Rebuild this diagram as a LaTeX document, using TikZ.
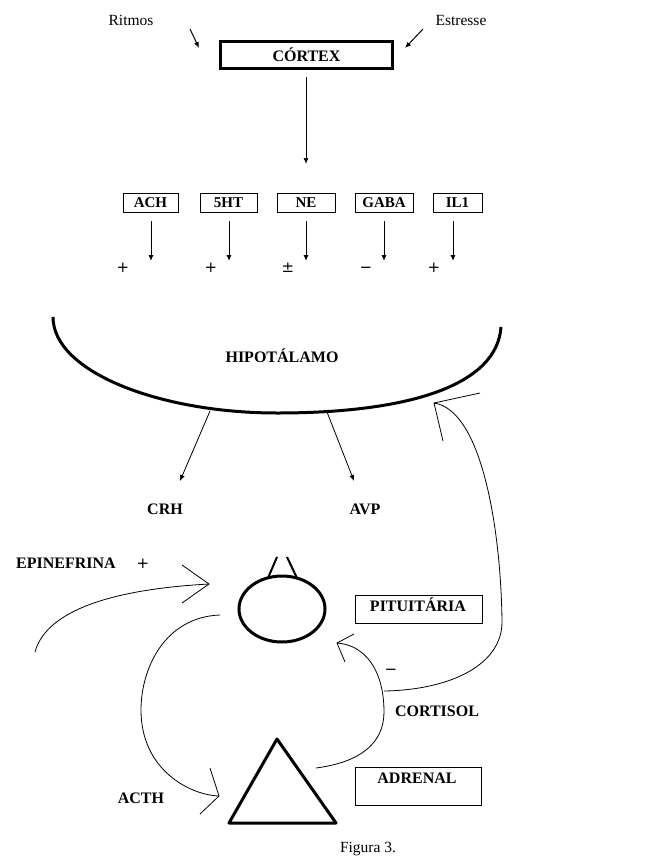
\documentclass[tikz,border=0pt]{standalone}
\usepackage{fontspec}
\setmainfont{Liberation Serif}
\newfontfamily\symf{DejaVu Sans}
\usetikzlibrary{arrows.meta,shapes.geometric}
\begin{document}
\begin{tikzpicture}[x=1pt,y=-1pt,
  lbl/.style={font=\fontsize{16}{18}\selectfont\bfseries, inner sep=0},
  txt/.style={font=\fontsize{15.5}{17}\selectfont, inner sep=0},
  sgn/.style={font=\symf\fontsize{15}{17}\selectfont, inner sep=0, text height=10pt, text depth=0pt},
  nbox/.style={draw, line width=1pt, minimum width=#1, minimum height=19, inner sep=0, font=\fontsize{15}{17}\selectfont\bfseries},
  arr/.style={line width=1pt, -{Latex[length=6pt,width=5pt]}},
  fine/.style={line width=0.8pt},
  heavy/.style={line width=3pt, line join=round}]
\useasboundingbox (0,0) rectangle (651,857);

% top
\node[txt] (ritmos) at (131,20) {Ritmos};
\node[txt] (estresse) at (461,20) {Estresse};
\node[draw, line width=3pt, minimum width=172, minimum height=27, inner sep=0, font=\fontsize{16}{18}\selectfont\bfseries] (cortex) at (306.5,54.5) {CÓRTEX};
\coordinate (r1) at (190,29);
\coordinate (r2) at (199,48);
\coordinate (e1) at (423,29);
\coordinate (e2) at (405,48);
\draw[arr] (r1) -- (r2);
\draw[arr] (e1) -- (e2);
\coordinate (c1) at (306,77);
\coordinate (c2) at (306,164);
\draw[arr] (c1) -- (c2);

% neurotransmitter boxes
\node[nbox=55] (ach) at (150.5,202.5) {ACH};
\node[nbox=57] (sht) at (228.5,202.5) {5HT};
\node[nbox=58] (ne) at (306,202.5) {NE};
\node[nbox=58] (gaba) at (384,202.5) {GABA};
\node[nbox=49] (il) at (457.5,202.5) {IL1};
\foreach \n/\x in {a/151,b/229,c/306,d/384,e/453}{
  \coordinate (\n s) at (\x,221);
  \coordinate (\n e) at (\x,261);
  \draw[arr] (\n s) -- (\n e);
}
\node[sgn] (p1) at (123,267) {+};
\node[sgn] (p2) at (211,267) {+};
\node[sgn] (p3) at (288,267) {±};
\node[sgn] (p4) at (366,267) {−};
\node[sgn] (p5) at (434,267) {+};

% hypothalamus
\draw[heavy] (53,317) .. controls (53,372) and (160,413) .. (277,413)
   .. controls (410,413) and (497,385) .. (501,327);
\node[lbl] (hipo) at (282,356) {HIPOTÁLAMO};
\coordinate (h1) at (210,411);
\coordinate (h1e) at (180,481);
\coordinate (h2) at (327,412);
\coordinate (h2e) at (354,481);
\draw[arr, line width=0.8pt] (h1) -- (h1e);
\draw[arr, line width=0.8pt] (h2) -- (h2e);
\node[lbl] (crh) at (165,509) {CRH};
\node[lbl] (avp) at (365,509) {AVP};

% pituitary
\node[lbl] (epi) at (66,563) {EPINEFRINA};
\node[sgn] (epiplus) at (143,563) {+};
\node[draw, ellipse, line width=3pt, minimum width=86, minimum height=66, inner sep=0] (pit) at (282,609) {};
\draw[line width=2pt] (268,578) -- (277,557);
\draw[line width=2pt] (297,578) -- (287,557);
\node[draw, line width=1pt, minimum width=127, minimum height=28, inner sep=0] (pitbox) at (418.5,609) {};
\node[lbl] (pittxt) at (418,605) {PITUITÁRIA};

% epinephrine curve
\coordinate (ep0) at (35,652);
\coordinate (eptip) at (209,584);
\draw[fine] (ep0) .. controls (45,615) and (100,590) .. (eptip);
\draw[fine] (182,565) -- (eptip) -- (182,603);

% ACTH curve
\coordinate (ac0) at (220,615);
\coordinate (acm) at (141,710);
\coordinate (actip) at (219,796);
\draw[fine] (ac0) .. controls (165,617) and (141,668) .. (acm)
  .. controls (141,770) and (190,795) .. (actip);
\draw[fine] (210,768) -- (actip) -- (200,814);
\node[lbl] (acth) at (141,798) {ACTH};

% adrenal
\draw[heavy] (277,739) -- (229,823) -- (336,823) -- cycle;
\node[draw, line width=1pt, minimum width=126, minimum height=38, inner sep=0] (adbox) at (418,786) {};
\node[lbl] (adtxt) at (417,778) {ADRENAL};

% cortisol curves
\coordinate (co0) at (316,768);
\coordinate (com) at (384,712);
\coordinate (cotip) at (337,643);
\draw[fine] (co0) .. controls (362,762) and (384,742) .. (com)
  .. controls (384,670) and (365,645) .. (cotip);
\draw[fine] (354,634) -- (cotip) -- (345,662);
\node[sgn] (minus) at (391,669) {−};
\node[lbl] (cort) at (437,711) {CORTISOL};

\coordinate (cb0) at (384,691);
\coordinate (cbm) at (502,622);
\coordinate (cbtip) at (434,403);
\draw[fine] (cb0) .. controls (450,690) and (502,665) .. (cbm)
  .. controls (501,530) and (482,410) .. (cbtip);
\draw[fine] (480,393) -- (cbtip) -- (443,441);

\node[txt] (fig) at (368,849) {Figura 3.};
\end{tikzpicture}
\end{document}
